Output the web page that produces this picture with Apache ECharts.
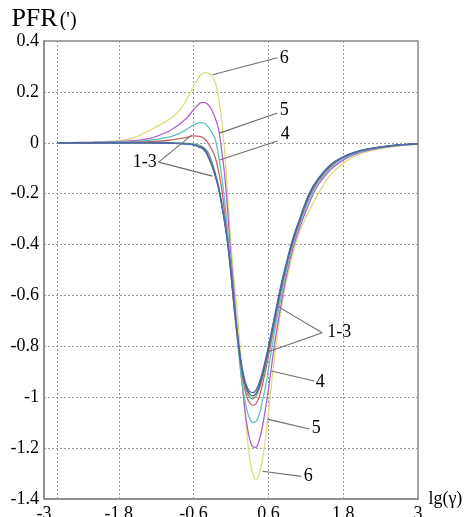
<!DOCTYPE html>
<html><head><meta charset="utf-8">
<script src="https://cdn.jsdelivr.net/npm/echarts@6/dist/echarts.min.js"></script>
<style>html,body{margin:0;padding:0;background:#fff}#c{width:465px;height:517px}</style>
</head><body><div id="c"></div>
<script>
// ---- data ----
const lgGamma = [-2.78,-2.2,-1.8,-1.6,-1.3,-1.0,-0.9,-0.8,-0.7,-0.6,-0.5,-0.45,-0.4,-0.35,-0.3,-0.25,-0.2,-0.15,-0.1,-0.05,0,0.05,0.1,0.15,0.2,0.25,0.3,0.35,0.4,0.45,0.5,0.55,0.6,0.7,0.8,0.9,1.0,1.1,1.25,1.4,1.6,1.8,2.0,2.2,2.6,3.0];

const curve6 = [0,0.002,0.008,0.016,0.05,0.09,0.108,0.135,0.175,0.222,0.262,0.273,0.276,0.272,0.262,0.235,0.18,0.09,-0.04,-0.22,-0.40,-0.54,-0.66,-0.82,-0.98,-1.13,-1.24,-1.30,-1.325,-1.305,-1.25,-1.17,-1.06,-0.84,-0.66,-0.53,-0.43,-0.35,-0.27,-0.20,-0.125,-0.08,-0.052,-0.034,-0.015,-0.005];
const curve5 = [0,0.002,0.005,0.008,0.017,0.045,0.06,0.078,0.10,0.13,0.155,0.159,0.156,0.145,0.125,0.095,0.055,-0.03,-0.13,-0.28,-0.45,-0.59,-0.74,-0.88,-1.0,-1.10,-1.165,-1.195,-1.197,-1.17,-1.12,-1.05,-0.97,-0.79,-0.64,-0.51,-0.41,-0.335,-0.24,-0.165,-0.105,-0.068,-0.045,-0.03,-0.013,-0.005];
const curve4 = [0,0.001,0.003,0.004,0.01,0.022,0.03,0.04,0.055,0.07,0.079,0.078,0.072,0.058,0.038,0.012,-0.05,-0.13,-0.23,-0.36,-0.49,-0.63,-0.77,-0.89,-0.98,-1.045,-1.085,-1.10,-1.095,-1.07,-1.02,-0.96,-0.89,-0.74,-0.61,-0.49,-0.395,-0.32,-0.225,-0.155,-0.097,-0.062,-0.041,-0.027,-0.012,-0.004];
const curveRed = [0,0,0.001,0.002,0.004,0.010,0.013,0.017,0.022,0.027,0.025,0.02,0.01,-0.008,-0.03,-0.06,-0.11,-0.18,-0.28,-0.40,-0.52,-0.65,-0.76,-0.86,-0.94,-0.995,-1.022,-1.032,-1.025,-1.0,-0.955,-0.90,-0.84,-0.71,-0.585,-0.475,-0.385,-0.31,-0.215,-0.148,-0.092,-0.058,-0.038,-0.025,-0.011,-0.004];
const curve3 = [0,0,0,0,0.001,0.001,0,-0.001,-0.002,-0.004,-0.010,-0.016,-0.027,-0.045,-0.08,-0.12,-0.17,-0.235,-0.31,-0.40,-0.515,-0.645,-0.755,-0.855,-0.93,-0.978,-1.0,-1.006,-0.996,-0.97,-0.93,-0.878,-0.82,-0.70,-0.578,-0.47,-0.38,-0.308,-0.21,-0.145,-0.089,-0.057,-0.037,-0.025,-0.011,-0.004];
const curve2 = [0,0,0,0,0,-0.001,-0.002,-0.003,-0.005,-0.008,-0.016,-0.022,-0.034,-0.06,-0.09,-0.128,-0.175,-0.24,-0.315,-0.40,-0.51,-0.64,-0.75,-0.85,-0.92,-0.965,-0.988,-0.995,-0.985,-0.958,-0.918,-0.866,-0.81,-0.69,-0.57,-0.465,-0.375,-0.305,-0.205,-0.142,-0.087,-0.056,-0.037,-0.024,-0.010,-0.004];
const curve1 = [0,0,0,0,0,-0.001,-0.002,-0.004,-0.006,-0.009,-0.018,-0.025,-0.04,-0.065,-0.095,-0.135,-0.18,-0.245,-0.315,-0.40,-0.50,-0.63,-0.74,-0.84,-0.91,-0.955,-0.977,-0.982,-0.972,-0.945,-0.905,-0.855,-0.80,-0.68,-0.56,-0.46,-0.37,-0.30,-0.20,-0.14,-0.085,-0.055,-0.036,-0.024,-0.010,-0.004];

const xTicks = [-3,-1.8,-0.6,0.6,1.8,3];
const xGridLines = [lgGamma[0],-1.8,-0.6,0.6,1.8];
const yTicks = [-1.4,-1.2,-1,-0.8,-0.6,-0.4,-0.2,0,0.2,0.4];

// label text, label anchor and leader-line targets (data space)
const annotations = [
  {text:'6',   at:[0.856,0.334],  from:[0.744,0.334],  to:[[-0.296,0.267]]},
  {text:'5',   at:[0.856,0.129],  from:[0.744,0.117],  to:[[-0.184,0.038]]},
  {text:'4',   at:[0.872,0.034],  from:[0.744,0.007],  to:[[-0.184,-0.068]]},
  {text:'1-3', at:[-1.384,-0.076],from:[-1.16,-0.076], to:[[-0.632,0.030],[-0.296,-0.131]]},
  {text:'1-3', at:[1.736,-0.743], from:[1.464,-0.747], to:[[0.728,-0.640],[0.584,-0.822]]},
  {text:'4',   at:[1.432,-0.940], from:[1.336,-0.936], to:[[0.648,-0.897]]},
  {text:'5',   at:[1.368,-1.122], from:[1.256,-1.125], to:[[0.584,-1.086]]},
  {text:'6',   at:[1.24,-1.311],  from:[1.128,-1.311], to:[[0.504,-1.291]]}
];

const seriesDefs = [
  {name:'6', data:curve6, color:'#dcdc7c'},
  {name:'5', data:curve5, color:'#b062c8'},
  {name:'4', data:curve4, color:'#5ec2c2'},
  {name:'1-3 red', data:curveRed, color:'#c4686a'},
  {name:'3', data:curve3, color:'#6c9e88'},
  {name:'2', data:curve2, color:'#505866'},
  {name:'1', data:curve1, color:'#4c6cb8'}
];

const FONT = '"Liberation Serif","Times New Roman",serif';

const option = {
  animation:false,
  backgroundColor:'#fff',
  grid:{left:44,right:47,top:41,bottom:18,show:true,borderColor:'#8a8a8a',borderWidth:1.5,
    containLabel:false,outerBoundsMode:'none'},
  xAxis:{
    type:'value', min:xTicks[0], max:xTicks[xTicks.length-1],
    name:'lg(γ)', nameLocation:'end', nameGap:6,
    nameTextStyle:{fontFamily:FONT,fontSize:18,color:'#000',padding:[14,0,0,0]},
    axisLine:{show:true,onZero:false,lineStyle:{color:'#8a8a8a',width:1.5}},
    axisTick:{show:false,customValues:xGridLines},
    axisLabel:{customValues:xTicks,fontFamily:FONT,fontSize:18,color:'#000',margin:6,
      formatter:v=>String(+(+v).toFixed(1))},
    splitLine:{show:true,lineStyle:{color:'#9a9a9a',type:[2,2],width:1}}
  },
  yAxis:{
    type:'value', min:yTicks[0], max:yTicks[yTicks.length-1], interval:0.2,
    name:'{a|PFR}{b|(\')}', nameLocation:'end', nameGap:7,
    nameTextStyle:{align:'center',rich:{
      a:{fontFamily:FONT,fontSize:26,color:'#000',verticalAlign:'bottom'},
      b:{fontFamily:FONT,fontSize:20,color:'#000',verticalAlign:'bottom',padding:[0,0,1,2]}
    }},
    axisLine:{show:true,onZero:false,lineStyle:{color:'#8a8a8a',width:1.5}},
    axisTick:{show:false},
    axisLabel:{fontFamily:FONT,fontSize:18,color:'#000',margin:5,
      formatter:v=>String(+(+v).toFixed(1))},
    splitLine:{show:true,lineStyle:{color:'#9a9a9a',type:[2,2],width:1}}
  },
  series: seriesDefs.map(s=>({
    type:'line', name:s.name, showSymbol:false, smooth:0.35,
    data: lgGamma.map((x,i)=>[x,s.data[i]]),
    lineStyle:{color:s.color,width:1.3}, itemStyle:{color:s.color}
  }))
};

const chart = echarts.init(document.getElementById('c'), null, {renderer:'canvas'});
chart.setOption(option);

const g = [];
annotations.forEach(a=>{
  const p = chart.convertToPixel({gridIndex:0}, a.at);
  const f = chart.convertToPixel({gridIndex:0}, a.from);
  a.to.forEach(t=>{
    const q = chart.convertToPixel({gridIndex:0}, t);
    g.push({type:'line', z:100, shape:{x1:f[0],y1:f[1],x2:q[0],y2:q[1]}, style:{stroke:'#6e6e6e',lineWidth:1.1}});
  });
  g.push({type:'text', z:101, x:p[0], y:p[1], style:{text:a.text, font:'18px '+FONT, fill:'#000',
    align:'center', verticalAlign:'middle', textAlign:'center', textVerticalAlign:'middle'}});
});
chart.setOption({graphic:g});
</script></body></html>
